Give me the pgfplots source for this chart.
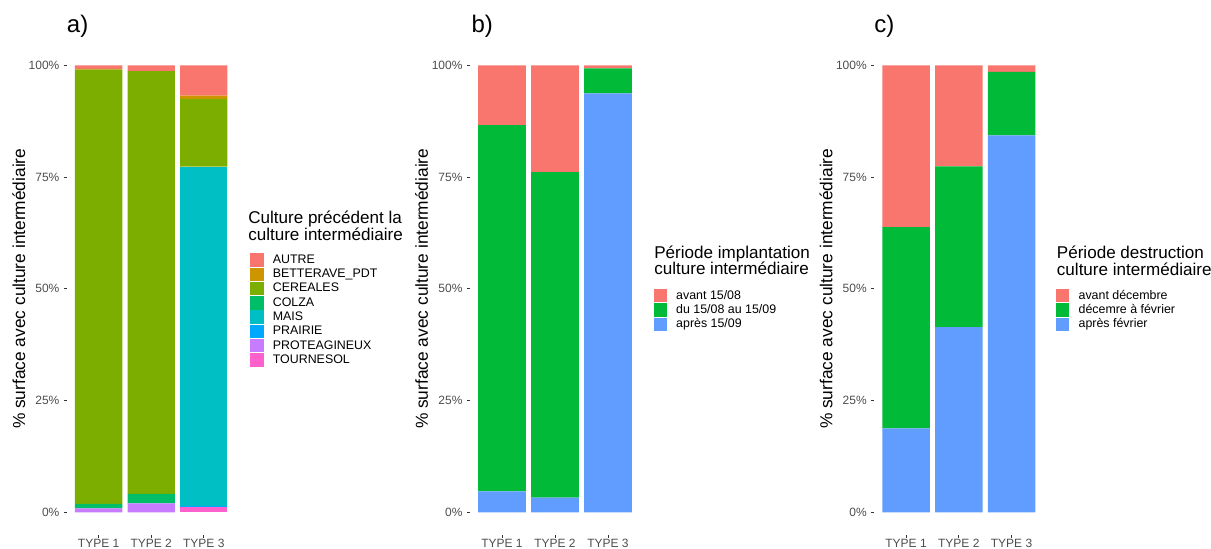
\documentclass[border=0pt]{standalone}
\usepackage{fontspec}
\setmainfont{Liberation Sans}
\usepackage{pgfplots}
\pgfplotsset{compat=1.18}

% ggplot hue palette
\definecolor{cAutre}{HTML}{F8766D}
\definecolor{cBett}{HTML}{CD9600}
\definecolor{cCer}{HTML}{7CAE00}
\definecolor{cColza}{HTML}{00BE67}
\definecolor{cMais}{HTML}{00BFC4}
\definecolor{cPrai}{HTML}{00A9FF}
\definecolor{cProt}{HTML}{C77CFF}
\definecolor{cTourn}{HTML}{FF61CC}
\definecolor{cRed}{HTML}{F8766D}
\definecolor{cGreen}{HTML}{00BA38}
\definecolor{cBlue}{HTML}{619CFF}
\definecolor{grey20}{HTML}{333333}
\definecolor{grey30}{HTML}{4D4D4D}

\pgfplotsset{
  panel/.style={
    scale only axis, width=126.5pt, height=368.8pt,
    xmin=0.4, xmax=3.6, ymin=-5, ymax=105,
    ybar stacked, bar width=0.9,
    axis x line*=bottom, axis y line*=left, axis line style={draw=none},
    tick align=outside, major tick length=2.25pt,
    tick style={color=grey20, line width=0.5pt},
    xtick={1,2,3}, xticklabels={TYPE 1,TYPE 2,TYPE 3},
    ytick={0,25,50,75,100}, yticklabels={0\%,25\%,50\%,75\%,100\%},
    ticklabel style={font=\fontsize{9}{10}\selectfont, text=grey30},
    xticklabel style={yshift=2.6pt},
    ylabel={\% surface avec culture intermédiaire},
    ylabel style={at={(axis description cs:-0.249,0.5)}, anchor=base,
      font=\fontsize{13}{14}\selectfont},
    reverse legend,
    legend style={draw=none, fill=none, inner sep=0pt, anchor=north west,
      font=\fontsize{9.3}{10}\selectfont,
      nodes={inner sep=0pt, minimum height=10.7pt, anchor=west},
      /tikz/every odd column/.append style={column sep=7pt}},
  },
  sq/.style={fill=#1, draw=none,
    legend image code/.code={\fill[##1] (0pt,-5pt) rectangle (10pt,5pt);}},
}

\begin{document}
\begin{tikzpicture}
\path[use as bounding box] (0,0) rectangle (908.25pt,411.75pt);

% ---- a) culture precedente
\begin{axis}[panel, at={(50.3pt,10.76pt)}, anchor=south west, width=126.2pt,
  legend style={at={(1.0868,0.5734)}}]
\addplot[sq=cTourn] coordinates {(1,0) (2,0) (3,1.1)};
\addplot[sq=cProt]  coordinates {(1,0.9) (2,2.0) (3,0)};
\addplot[sq=cPrai]  coordinates {(1,0) (2,0) (3,0.2)};
\addplot[sq=cMais]  coordinates {(1,0) (2,0) (3,76.0)};
\addplot[sq=cColza] coordinates {(1,1.0) (2,2.1) (3,0)};
\addplot[sq=cCer]   coordinates {(1,97.1) (2,94.6) (3,15.2)};
\addplot[sq=cBett]  coordinates {(1,0.2) (2,0) (3,0.7)};
\addplot[sq=cAutre] coordinates {(1,0.8) (2,1.3) (3,6.8)};
\legend{TOURNESOL,PROTEAGINEUX,PRAIRIE,MAIS,COLZA,CEREALES,BETTERAVE\_PDT,AUTRE}
\end{axis}

% ---- b) periode implantation
\begin{axis}[panel, at={(352.65pt,10.76pt)}, anchor=south west, width=127.2pt,
  legend style={at={(1.0796,0.5010)}}]
\addplot[sq=cBlue]  coordinates {(1,4.7) (2,3.3) (3,93.7)};
\addplot[sq=cGreen] coordinates {(1,81.9) (2,72.8) (3,5.6)};
\addplot[sq=cRed]   coordinates {(1,13.4) (2,23.9) (3,0.7)};
\legend{après 15/09,du 15/08 au 15/09,avant 15/08}
\end{axis}

% ---- c) periode destruction
\begin{axis}[panel, at={(655.8pt,10.76pt)}, anchor=south west, width=126.6pt,
  legend style={at={(1.0741,0.5010)}}]
\addplot[sq=cBlue]  coordinates {(1,18.8) (2,41.4) (3,84.3)};
\addplot[sq=cGreen] coordinates {(1,45.0) (2,36.0) (3,14.2)};
\addplot[sq=cRed]   coordinates {(1,36.2) (2,22.6) (3,1.5)};
\legend{après février,décemre à février,avant décembre}
\end{axis}

% panel tags
\begin{scope}[every node/.style={inner sep=0pt, anchor=base west, font=\fontsize{18}{20}\selectfont}]
\node at (50.0pt,387pt) {a)};
\node at (353.5pt,387pt) {b)};
\node at (655.5pt,387pt) {c)};
\end{scope}

% legend titles
\begin{scope}[every node/.style={inner sep=0pt, anchor=base west, font=\fontsize{12.8}{14}\selectfont}]
\node at (186pt,243.75pt) {Culture précédent la};
\node at (186pt,231.2pt) {culture intermédiaire};
\node at (490.5pt,218.0pt) {Période implantation};
\node at (490.5pt,205.5pt) {culture intermédiaire};
\node at (792.5pt,217.5pt) {Période destruction};
\node at (792.5pt,205.0pt) {culture intermédiaire};
\end{scope}
\end{tikzpicture}
\end{document}
